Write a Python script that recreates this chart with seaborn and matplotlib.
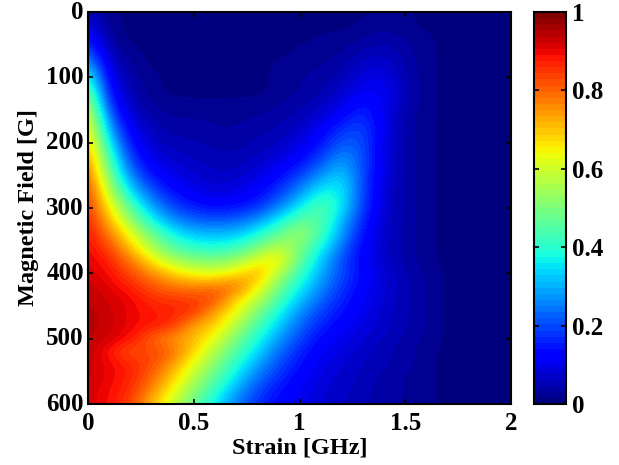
import numpy as np
import pandas as pd
import seaborn as sns
import matplotlib
matplotlib.use("Agg")
import matplotlib.pyplot as plt

# Strain [GHz] along columns, magnetic field [G] along rows
strain = [0.0, 0.1, 0.2, 0.3, 0.4, 0.5, 0.6, 0.7, 0.8, 0.9, 1.0, 1.1, 1.2, 1.3, 1.4, 1.5, 1.6, 1.7, 1.8, 1.9, 2.0]
field = list(range(0, 601, 20))

intensity = [
    [.06, .02, .01, .01, .01, .01, .01, .01, .01, .01, .01, .01, .01, .01, .02, .02, .01, .01, .01, .01, .01],  # 0
    [.10, .02, .01, .01, .01, .01, .01, .01, .01, .01, .01, .01, .01, .02, .03, .02, .01, .01, .01, .01, .01],  # 20
    [.16, .03, .01, .01, .01, .01, .01, .01, .01, .01, .01, .02, .02, .03, .04, .03, .02, .01, .01, .01, .01],  # 40
    [.22, .05, .02, .01, .01, .01, .01, .01, .01, .01, .02, .02, .03, .05, .06, .04, .02, .01, .01, .01, .01],  # 60
    [.31, .08, .03, .01, .01, .01, .01, .01, .01, .02, .02, .03, .04, .07, .08, .04, .02, .01, .01, .01, .01],  # 80
    [.41, .10, .04, .02, .01, .01, .01, .01, .01, .02, .03, .04, .05, .09, .10, .05, .02, .01, .01, .01, .01],  # 100
    [.50, .13, .05, .02, .01, .01, .01, .01, .01, .02, .03, .04, .07, .11, .11, .05, .02, .01, .01, .01, .01],  # 120
    [.58, .17, .06, .03, .02, .02, .02, .02, .02, .03, .04, .06, .09, .15, .11, .05, .02, .01, .01, .01, .01],  # 140
    [.64, .23, .08, .04, .03, .03, .03, .03, .03, .04, .05, .08, .13, .18, .10, .04, .02, .01, .01, .01, .01],  # 160
    [.68, .29, .11, .06, .04, .04, .03, .03, .04, .05, .07, .11, .18, .20, .10, .04, .02, .01, .01, .01, .01],  # 180
    [.72, .36, .14, .07, .05, .05, .04, .04, .05, .06, .09, .14, .22, .21, .09, .04, .02, .01, .01, .01, .01],  # 200
    [.76, .42, .18, .09, .07, .06, .05, .05, .06, .08, .12, .18, .27, .21, .09, .04, .02, .01, .01, .01, .01],  # 220
    [.80, .47, .23, .12, .09, .07, .06, .06, .08, .11, .16, .24, .32, .20, .09, .04, .02, .01, .01, .01, .01],  # 240
    [.83, .53, .29, .17, .11, .09, .07, .08, .10, .15, .22, .31, .36, .20, .08, .04, .02, .01, .01, .01, .01],  # 260
    [.85, .60, .37, .23, .15, .11, .09, .10, .13, .19, .28, .40, .37, .19, .08, .04, .02, .01, .01, .01, .01],  # 280
    [.86, .66, .46, .30, .20, .16, .14, .15, .18, .26, .37, .46, .36, .18, .08, .04, .02, .01, .01, .01, .01],  # 300
    [.88, .72, .54, .38, .28, .23, .22, .23, .28, .37, .47, .46, .31, .16, .07, .04, .02, .01, .01, .01, .01],  # 320
    [.89, .78, .63, .49, .37, .32, .31, .32, .38, .47, .55, .44, .28, .14, .07, .04, .02, .01, .01, .01, .01],  # 340
    [.90, .83, .70, .56, .45, .40, .39, .41, .49, .58, .51, .38, .24, .12, .07, .04, .02, .01, .01, .01, .01],  # 360
    [.91, .87, .78, .66, .56, .51, .50, .53, .62, .68, .47, .33, .20, .12, .07, .04, .02, .01, .01, .01, .01],  # 380
    [.92, .89, .83, .76, .69, .63, .62, .66, .74, .57, .42, .30, .20, .13, .08, .05, .03, .01, .01, .01, .01],  # 400
    [.93, .91, .87, .82, .78, .77, .78, .80, .66, .50, .37, .27, .18, .12, .08, .05, .03, .01, .01, .01, .01],  # 420
    [.94, .92, .90, .86, .85, .84, .84, .68, .58, .44, .32, .23, .16, .11, .08, .05, .03, .01, .01, .01, .01],  # 440
    [.945, .93, .90, .88, .87, .86, .72, .64, .50, .38, .27, .19, .14, .10, .07, .05, .03, .01, .01, .01, .01],  # 460
    [.945, .93, .90, .88, .86, .72, .70, .56, .44, .33, .23, .16, .12, .09, .07, .05, .03, .01, .01, .01, .01],  # 480
    [.945, .92, .89, .80, .74, .72, .62, .50, .39, .28, .20, .13, .10, .08, .06, .04, .03, .01, .01, .01, .01],  # 500
    [.94, .88, .81, .84, .80, .68, .56, .45, .34, .24, .16, .11, .09, .07, .05, .04, .02, .01, .01, .01, .01],  # 520
    [.93, .90, .87, .83, .74, .62, .51, .39, .29, .20, .14, .10, .08, .06, .05, .04, .02, .01, .01, .01, .01],  # 540
    [.93, .90, .87, .80, .69, .57, .46, .35, .24, .17, .12, .09, .07, .06, .04, .03, .02, .01, .01, .01, .01],  # 560
    [.92, .89, .86, .76, .64, .52, .41, .29, .20, .14, .11, .08, .07, .05, .04, .03, .02, .01, .01, .01, .01],  # 580
    [.92, .89, .84, .71, .59, .47, .36, .25, .17, .13, .10, .08, .06, .05, .04, .03, .02, .01, .01, .01, .01],  # 600
]

strain_ticks = [0, 0.5, 1, 1.5, 2]
field_ticks = [0, 100, 200, 300, 400, 500, 600]
cbar_ticks = [0, 0.2, 0.4, 0.6, 0.8, 1]

plt.rcParams["font.family"] = ["Liberation Serif", "DejaVu Serif"]
plt.rcParams["font.weight"] = "bold"
plt.rcParams["axes.labelweight"] = "bold"

df = pd.DataFrame(intensity, index=field, columns=strain)
jet64 = plt.get_cmap("jet", 64)

fig = plt.figure(figsize=(6.19, 4.65), dpi=100)
ax = fig.add_axes([88 / 619, 1 - 404 / 465, 423 / 619, 392 / 465])
cax = fig.add_axes([534 / 619, 1 - 404 / 465, 32 / 619, 392 / 465])

sns.heatmap(df, ax=ax, cbar_ax=cax, vmin=0, vmax=1, cmap=jet64, cbar_kws={"ticks": cbar_ticks})

# same table again, smoothed at render time like the original figure
n_rows, n_cols = df.shape
ax.imshow(
    df.values,
    cmap=jet64,
    vmin=0,
    vmax=1,
    interpolation="bicubic",
    aspect="auto",
    extent=(-0.5, n_cols - 0.5, n_rows - 0.5, -0.5),
    zorder=1.2,
)
ax.set_xlim(0, n_cols - 1)
ax.set_ylim(n_rows - 1, 0)

ax.set_xticks(np.interp(strain_ticks, strain, range(n_cols)))
ax.set_xticklabels([f"{t:g}" for t in strain_ticks], rotation=0)
ax.set_yticks(np.interp(field_ticks, field, range(n_rows)))
ax.set_yticklabels([str(t) for t in field_ticks], rotation=0)
ax.set_xlabel("Strain [GHz]", fontsize=17.5, labelpad=2)
ax.set_ylabel("Magnetic Field [G]", fontsize=17.5, labelpad=5)
ax.tick_params(direction="in", length=3.5, width=1.2, labelsize=18, top=True, right=True, pad=3, color="black")
ax.tick_params(axis="x", pad=5.5)
for spine in ax.spines.values():
    spine.set_visible(True)
    spine.set_linewidth(1.5)

cbar = ax.collections[0].colorbar
cbar.set_ticklabels([f"{t:g}" for t in cbar_ticks])
cax.tick_params(direction="in", length=3.5, width=1.2, labelsize=18, left=True, right=True, pad=4, color="black")
cbar.outline.set_linewidth(1.5)
cbar.outline.set_edgecolor("black")

fig.savefig("out.png", dpi=100)
